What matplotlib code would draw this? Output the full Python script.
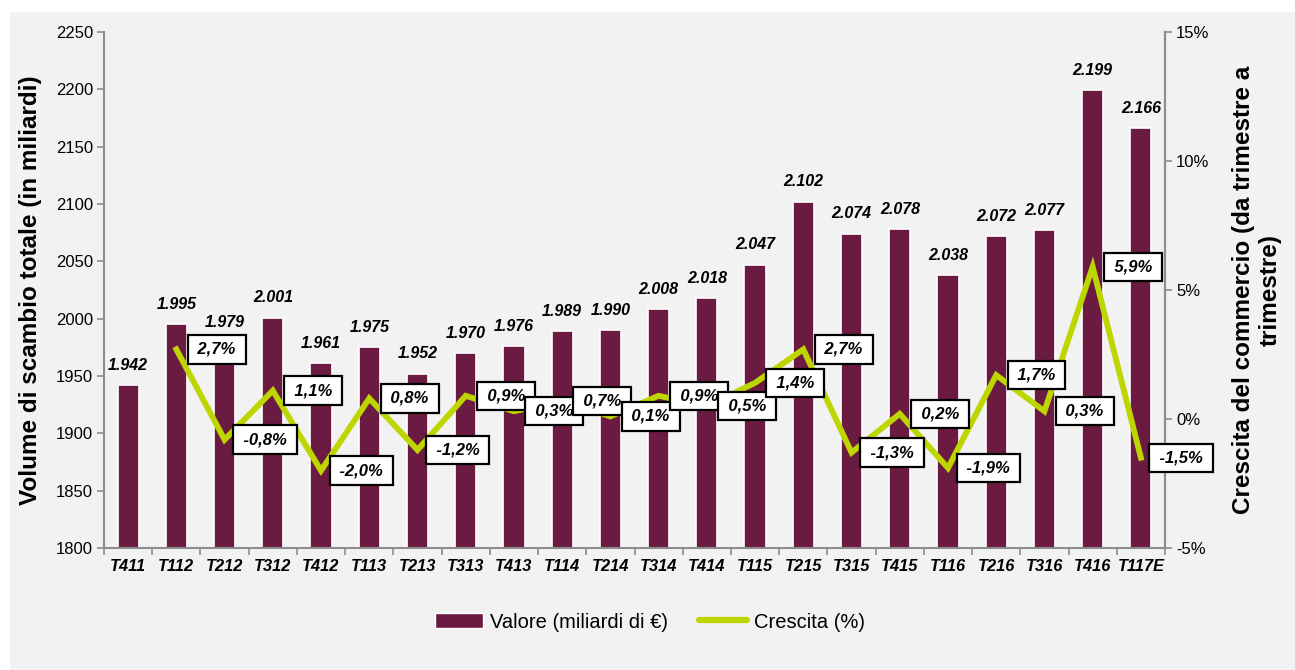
import numpy as np
import matplotlib.pyplot as plt
from matplotlib.patches import Rectangle
from matplotlib.lines import Line2D
from matplotlib.patches import Patch

plt.rcParams['font.family'] = ['Liberation Sans', 'DejaVu Sans']

quarters = ['T411', 'T112', 'T212', 'T312', 'T412', 'T113', 'T213', 'T313', 'T413',
            'T114', 'T214', 'T314', 'T414', 'T115', 'T215', 'T315', 'T415', 'T116',
            'T216', 'T316', 'T416', 'T117E']
valore = [1942, 1995, 1979, 2001, 1961, 1975, 1952, 1970, 1976, 1989, 1990, 2008,
          2018, 2047, 2102, 2074, 2078, 2038, 2072, 2077, 2199, 2166]
# growth starts from the second quarter
crescita = [2.7, -0.8, 1.1, -2.0, 0.8, -1.2, 0.9, 0.3, 0.7, 0.1, 0.9, 0.5, 1.4,
            2.7, -1.3, 0.2, -1.9, 1.7, 0.3, 5.9, -1.5]

bar_color = '#6b1a42'
line_color = '#bed600'
axis_gray = '#8c8c8c'
bg = '#f2f2f2'

fig = plt.figure(figsize=(12.95, 6.7), dpi=100)
fig.patch.set_facecolor('white')
fig.patches.append(Rectangle((10 / 1295, 0), 1, 1 - 12 / 670, transform=fig.transFigure,
                             facecolor=bg, edgecolor='none', zorder=-10))

ax = fig.add_axes([104 / 1295, 1 - 548 / 670, (1165 - 104) / 1295, (548 - 32) / 670])
ax.set_facecolor('none')
x = np.arange(len(quarters))
ax.bar(x, valore, width=0.44, color=bar_color, edgecolor='white', linewidth=1.2, zorder=2)
for xi, v in zip(x, valore):
    ax.annotate(f'{v/1000:.3f}', (xi, v), xytext=(0, 9), textcoords='offset points',
                ha='center', va='bottom', fontsize=11.5, fontweight='bold', fontstyle='italic')

ax.set_xlim(-0.5, len(quarters) - 0.5)
ax.set_ylim(1800, 2250)
ax.set_yticks(np.arange(1800, 2251, 50))
ax.set_xticks(x)
ax.set_xticklabels(quarters, fontsize=11.8, fontweight='bold', fontstyle='italic')
ax.set_xticks(np.arange(-0.5, len(quarters), 1), minor=True)
ax.tick_params(axis='x', which='major', length=0, pad=8)
ax.tick_params(axis='x', which='minor', length=5, color=axis_gray, width=1.2)
ax.tick_params(axis='y', labelsize=12, length=5, color=axis_gray, width=1.2, pad=3)
ax.spines['top'].set_visible(False)
for s in ['left', 'bottom', 'right']:
    ax.spines[s].set_color(axis_gray)
    ax.spines[s].set_linewidth(1.5)
ax.set_ylabel('Volume di scambio totale (in miliardi)', fontsize=17.5, fontweight='bold', labelpad=10)

ax2 = ax.twinx()
ax2.set_ylim(-5, 15)
ax2.set_yticks([-5, 0, 5, 10, 15])
ax2.set_yticklabels([f'{t}%' for t in [-5, 0, 5, 10, 15]])
ax2.tick_params(axis='y', labelsize=12, length=5, color=axis_gray, width=1.2, pad=3)
for s in ['top', 'left', 'bottom']:
    ax2.spines[s].set_visible(False)
ax2.spines['right'].set_color(axis_gray)
ax2.spines['right'].set_linewidth(1.5)
xl = x[1:]
ax2.plot(xl, crescita, color=line_color, linewidth=4.2, zorder=3, solid_joinstyle='miter')
for xi, c in zip(xl, crescita):
    lab = f'{c:.1f}%'.replace('.', ',')
    ax2.annotate(f'\u2009{lab}\u2009', (xi, c), xytext=(29, 0), textcoords='offset points',
                 ha='center', va='center', fontsize=12, fontweight='bold', fontstyle='italic',
                 bbox=dict(boxstyle='square,pad=0.4', fc='white', ec='black', lw=1.6), zorder=5)
ax2.set_ylabel('Crescita del commercio (da trimestre a\ntrimestre)', fontsize=17.5,
               fontweight='bold', labelpad=16)

handles = [Patch(facecolor=bar_color, edgecolor='white'),
           Line2D([0], [0], color=line_color, linewidth=4.5, solid_capstyle='round')]
fig.legend(handles, ['Valore (miliardi di €)', 'Crescita (%)'], loc='center',
           bbox_to_anchor=(650 / 1295, 1 - 622 / 670), ncol=2, frameon=False,
           fontsize=14.5, handlelength=2.4, handletextpad=0.35, columnspacing=1.5)

plt.savefig('out.png', dpi=100, facecolor=fig.get_facecolor())
